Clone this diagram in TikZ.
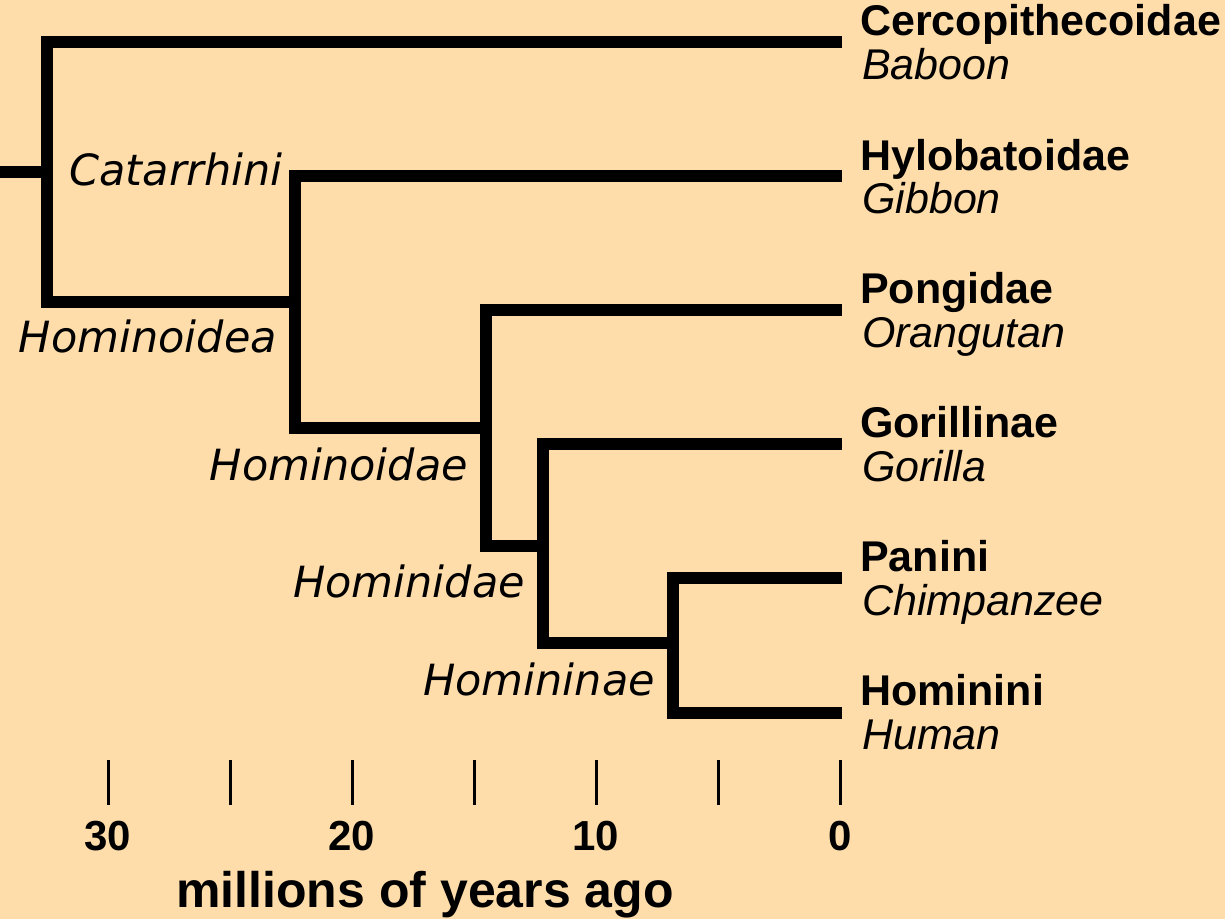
\documentclass[tikz,border=0pt]{standalone}
\usepackage{fontspec}
\setmainfont{Liberation Sans}
\newfontfamily\cladefont{DejaVu Sans}
\usetikzlibrary{positioning}
\definecolor{paper}{RGB}{254,221,170}

\begin{document}
\begin{tikzpicture}[
    x=1bp, y=-1bp,
    branch/.style={line width=12bp, line join=miter},
    tickmark/.style={line width=3bp},
    taxon/.style={font=\fontsize{43bp}{48bp}\selectfont\bfseries, inner sep=0pt, anchor=base west},
    common/.style={font=\fontsize{43bp}{48bp}\selectfont\itshape, inner sep=0pt, anchor=base west},
    clade/.style={font=\cladefont\fontsize{43bp}{48bp}\selectfont\itshape, inner sep=0pt, anchor=base east},
    age/.style={font=\fontsize{42bp}{46bp}\selectfont\bfseries, inner sep=0pt, anchor=base}
]
% background fixes the page size
\useasboundingbox (0,0) rectangle (1225,919);
\fill[paper] (0,0) rectangle (1225,919);

% branching points
\coordinate (root) at (0,172);
\coordinate (cat) at (47,172);
\coordinate (hoidea) at (295,302);
\coordinate (hoidae) at (486,428);
\coordinate (hidae) at (543,546);
\coordinate (hinae) at (673,643);

% tips
\coordinate (t1) at (842,42);
\coordinate (t2) at (842,176);
\coordinate (t3) at (842,310);
\coordinate (t4) at (842,444);
\coordinate (t5) at (842,578);
\coordinate (t6) at (842,713);

\draw[branch] (root) -- (cat);
\draw[branch] (t1) -| (cat) |- (hoidea);
\draw[branch] (t2) -| (hoidea) |- (hoidae);
\draw[branch] (t3) -| (hoidae) |- (hidae);
\draw[branch] (t4) -| (hidae) |- (hinae);
\draw[branch] (t5) -| (hinae) |- (t6);

% tip labels
\node[taxon] (cerco) at (860,35) {Cercopithecoidae};
\node[common] (baboon) at (862,79) {Baboon};
\node[taxon] (hylo) at (860,170) {Hylobatoidae};
\node[common] (gibbon) at (862,213) {Gibbon};
\node[taxon] (pong) at (860,303) {Pongidae};
\node[common] (orang) at (862,347) {Orangutan};
\node[taxon] (gor) at (860,437) {Gorillinae};
\node[common] (gorilla) at (862,481) {Gorilla};
\node[taxon] (pan) at (860,571) {Panini};
\node[common] (chimp) at (862,615) {Chimpanzee};
\node[taxon] (homo) at (860,705) {Hominini};
\node[common] (human) at (862,749) {Human};

% clade labels
\node[clade] (catlbl) at (283,185) {Catarrhini};
\node[clade] (hoidealbl) at (277,352) {Hominoidea};
\node[clade] (hoidaelbl) at (468,480) {Hominoidae};
\node[clade] (hidaelbl) at (525,597) {Hominidae};
\node[clade] (hinaelbl) at (655,695) {Homininae};

% time axis
\foreach \x in {108,230,352,474,596,718,840}
    \draw[tickmark] (\x,760) -- (\x,805);
\node[age] (a30) at (108,850) {30};
\node[age] (a20) at (352,850) {20};
\node[age] (a10) at (596,850) {10};
\node[age] (a0) at (840,850) {0};
\node[age, font=\fontsize{50bp}{54bp}\selectfont\bfseries] (mya) at (425,907) {millions of years ago};
\end{tikzpicture}
\end{document}
